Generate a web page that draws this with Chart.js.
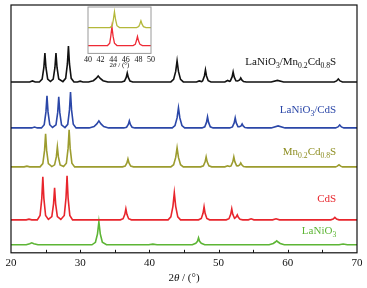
<!DOCTYPE html>
<html>
<head>
<meta charset="utf-8">
<script src="https://cdn.jsdelivr.net/npm/chart.js@4"></script>
<style>
  body { margin: 0; background: #fff; }
  #wrap { position: relative; width: 367px; height: 288px; }
  #main { position: absolute; left: 0; top: 0; }
  #inset { position: absolute; left: 68px; top: 0; }
</style>
</head>
<body>
<div id="wrap">
  <canvas id="main" width="367" height="288"></canvas>
  <canvas id="inset" width="100" height="75"></canvas>
</div>
<script>
// 2theta (deg) vs intensity (a.u.), baseline = 0
var lanio3_mncds = [[20,0],[22.7,0],[23.1,1],[23.5,0],
  [24.1,0],[24.5,2.9],[24.75,14.5],[24.9,29],[25.05,14.5],[25.3,2.9],
  [25.7,0.4],[26.1,2.9],[26.35,14.5],[26.5,29],[26.65,14.5],[26.9,2.9],
  [27.5,0.3],[27.9,3.6],[28.15,18],[28.3,36],[28.45,18],[28.7,3.6],[29.1,0],
  [29.6,0],[30.0,0.8],[30.4,0],
  [31.2,0],[31.9,1.2],[32.3,3.5],[32.6,6],[32.9,3.5],[33.3,1.2],[34,0],
  [36,0],[36.4,0.9],[36.65,4.5],[36.8,9],[36.95,4.5],[37.2,0.9],[37.6,0],
  [43.1,0],[43.5,2.5],[43.8,10.5],[44.0,21],[44.2,10.5],[44.5,2.5],[44.9,0],
  [46.8,0],[47.2,1],[47.55,0.3],[47.7,1.2],[47.95,6],[48.1,12],[48.25,6],[48.5,1.2],[48.9,0],
  [50.9,0],[51.3,1.5],[51.6,0.5],[51.7,1],[51.95,5],[52.1,10],[52.25,5],[52.5,1.2],
  [52.75,1],[53.05,2],[53.2,4],[53.35,2],[53.6,0.4],[54,0],
  [57.6,0],[58.5,1.5],[59.4,0],
  [66.7,0],[67.05,1],[67.3,3],[67.55,1],[67.9,0],[70,0]];

var lanio3_cds = [[20,0],[23.0,0],[23.4,0.8],[23.8,0],
  [24.4,0],[24.8,3.2],[25.05,16],[25.2,32],[25.35,16],[25.6,3.2],
  [26.0,0.4],[26.5,3.1],[26.75,15.5],[26.9,31],[27.05,15.5],[27.3,3.1],
  [27.8,0.3],[28.2,3.6],[28.45,18],[28.6,36],[28.75,18],[29.0,3.6],[29.4,0],
  [31.3,0],[32.0,1.4],[32.4,4],[32.7,7],[33.0,4],[33.4,1.4],[34.1,0],
  [36.3,0],[36.7,0.7],[36.95,3.5],[37.1,7],[37.25,3.5],[37.5,0.7],[37.9,0],
  [43.3,0],[43.7,2.4],[44.0,10],[44.2,20],[44.4,10],[44.7,2.4],[45.1,0],
  [47.6,0],[48.0,1.1],[48.25,5.5],[48.4,11],[48.55,5.5],[48.8,1.1],[49.2,0],
  [51.6,0],[52.0,1],[52.25,5],[52.4,10],[52.55,5],[52.8,1.2],
  [53.0,1.2],[53.25,2],[53.4,4],[53.55,2],[53.8,0.4],[54.2,0],
  [57.6,0],[58.6,2],[59.6,0],
  [66.9,0],[67.25,1],[67.5,3],[67.75,1],[68.1,0],[70,0]];

var mncds = [[20,0],[21.9,0],[22.3,0.7],[22.7,0],
  [24.2,0],[24.6,3.3],[24.85,16.5],[25.0,33],[25.15,16.5],[25.4,3.3],
  [25.9,0.3],[26.3,2],[26.55,10],[26.7,20],[26.85,10],[27.1,2],
  [27.6,0.3],[28.0,3.7],[28.25,18.5],[28.4,37],[28.55,18.5],[28.8,3.7],[29.2,0],
  [36.1,0],[36.5,0.8],[36.75,4],[36.9,8],[37.05,4],[37.3,0.8],[37.7,0],
  [43.1,0],[43.5,2.2],[43.8,9.5],[44.0,19],[44.2,9.5],[44.5,2.2],[44.9,0],
  [47.4,0],[47.8,1],[48.05,5],[48.2,10],[48.35,5],[48.6,1],[49.0,0],
  [50.9,0],[51.3,1],[51.6,0.4],[51.8,1],[52.05,5],[52.2,10],[52.35,5],[52.6,1.2],
  [52.8,1],[53.05,2],[53.2,4],[53.35,2],[53.6,0.4],[54,0],
  [66.9,0],[67.15,0.7],[67.4,2],[67.65,0.7],[67.9,0],[70,0]];

var cds = [[20,0],[22.2,0],[22.6,0.7],[23.0,0],
  [23.8,0],[24.2,4.3],[24.45,21.5],[24.6,43],[24.75,21.5],[25.0,4.3],
  [25.4,0.4],[25.9,3.2],[26.15,16],[26.3,32],[26.45,16],[26.7,3.2],
  [27.2,0.4],[27.7,4.4],[27.95,22],[28.1,44],[28.25,22],[28.5,4.4],[28.9,0],
  [35.8,0],[36.2,1.1],[36.45,5.5],[36.6,11],[36.75,5.5],[37.0,1.1],[37.4,0],
  [42.7,0],[43.1,3],[43.4,13.5],[43.6,27],[43.8,13.5],[44.1,3],[44.5,0],
  [47.1,0],[47.5,1.3],[47.75,6.5],[47.9,13],[48.05,6.5],[48.3,1.3],[48.7,0],
  [51.1,0],[51.5,1.1],[51.75,5.5],[51.9,11],[52.05,5.5],[52.3,1.5],
  [52.4,2],[52.55,3],[52.7,5],[52.85,2.5],[53.1,0.5],[53.5,0],
  [54.3,0],[54.7,1],[55.1,0],
  [57.8,0],[58.3,1],[58.8,0],
  [66.2,0],[66.55,0.8],[66.8,2.5],[67.05,0.8],[67.4,0],[70,0]];

var lanio3 = [[20,0],[22.2,0],[22.7,1],[23.0,2],[23.3,1],[23.9,0],
  [31.7,0],[32.2,2.5],[32.5,11],[32.7,23],[32.9,11],[33.2,2.5],[33.8,0],
  [39.9,0],[40.5,0.7],[41.1,0],
  [46.2,0],[46.7,1.5],[46.95,3.5],[47.1,7],[47.25,3.5],[47.5,1.5],[48.0,0],
  [57.3,0],[57.9,1.3],[58.2,2.8],[58.4,4],[58.6,2.8],[58.9,1.3],[59.5,0],
  [67.4,0],[68.0,0.8],[68.6,0],[70,0]];

// vertical offsets of the stacked patterns
var offsets = [171, 125, 86, 33, 8];
var names = ['LaNiO3/Mn0.2Cd0.8S', 'LaNiO3/CdS', 'Mn0.2Cd0.8S', 'CdS', 'LaNiO3'];
var colors = ['#111111', '#2b47a8', '#9c9c2e', '#e8252c', '#5db535'];
var labelColors = ['#111111', '#2b47a8', '#8e8e22', '#e8252c', '#5db535'];
// label anchor (2theta, intensity) – right aligned
var labelY = [188, 140, 98, 51, 19];
var labelParts = [
  [['LaNiO',0],['3',1],['/Mn',0],['0.2',1],['Cd',0],['0.8',1],['S',0]],
  [['LaNiO',0],['3',1],['/CdS',0]],
  [['Mn',0],['0.2',1],['Cd',0],['0.8',1],['S',0]],
  [['CdS',0]],
  [['LaNiO',0],['3',1]]
];
var patterns = [lanio3_mncds, lanio3_cds, mncds, cds, lanio3];

// inset (40-50 deg)
var inset_mncds = [[40,0],[43.5,0],[43.85,2],[44.02,8],[44.2,16],[44.38,8],[44.6,2],[45.0,0],
  [47.7,0],[48.05,1],[48.22,3.5],[48.4,7],[48.58,3.5],[48.8,1],[49.2,0],[50,0]];
var inset_cds = [[40,0],[43.1,0],[43.45,2.4],[43.62,9.6],[43.8,19.3],[43.98,9.6],[44.2,2.4],[44.6,0],
  [47.15,0],[47.5,1.2],[47.67,4.6],[47.85,9.3],[48.03,4.6],[48.25,1.2],[48.65,0],[50,0]];
var insetOffsets = [26.3, 8];

var serif = '"Liberation Serif", "Times New Roman", serif';

function drawParts(ctx, parts, xr, y, size, color) {
  var sub = size * 0.7;
  var w = 0;
  parts.forEach(function (p) {
    ctx.font = (p[1] ? sub : size) + 'px ' + serif;
    w += ctx.measureText(p[0]).width;
  });
  var x = xr - w;
  ctx.fillStyle = color;
  ctx.textAlign = 'left';
  ctx.textBaseline = 'alphabetic';
  parts.forEach(function (p) {
    ctx.font = (p[1] ? sub : size) + 'px ' + serif;
    ctx.fillText(p[0], x, y + (p[1] ? size * 0.28 : 0));
    x += ctx.measureText(p[0]).width;
  });
}

function drawTitle(ctx, cx, y, size) {
  var parts = [['2', ''], ['\u03b8', 'italic '], [' / (\u00b0)', '']];
  var w = 0;
  parts.forEach(function (p) { ctx.font = p[1] + size + 'px ' + serif; w += ctx.measureText(p[0]).width; });
  var x = cx - w / 2;
  ctx.fillStyle = '#111';
  ctx.textAlign = 'left';
  ctx.textBaseline = 'alphabetic';
  parts.forEach(function (p) {
    ctx.font = p[1] + size + 'px ' + serif;
    ctx.fillText(p[0], x, y);
    x += ctx.measureText(p[0]).width;
  });
}

var mainDeco = {
  id: 'mainDeco',
  afterDraw: function (chart) {
    var ctx = chart.ctx, a = chart.chartArea, xs = chart.scales.x, ys = chart.scales.y;
    ctx.save();
    ctx.strokeStyle = '#111';
    ctx.lineWidth = 1.2;
    ctx.strokeRect(a.left, a.top, a.right - a.left, a.bottom - a.top);
    ctx.lineWidth = 1;
    for (var t = 25; t < 70; t += 5) {
      var px = Math.round(xs.getPixelForValue(t)) + 0.5;
      ctx.beginPath();
      ctx.moveTo(px, a.bottom);
      ctx.lineTo(px, a.bottom - 3);
      ctx.stroke();
    }
    for (var i = 0; i < names.length; i++) {
      drawParts(ctx, labelParts[i], xs.getPixelForValue(67), ys.getPixelForValue(labelY[i]), 11, labelColors[i]);
    }
    drawTitle(ctx, (a.left + a.right) / 2, a.bottom + 28, 11);
    ctx.restore();
  }
};

new Chart(document.getElementById('main'), {
  type: 'line',
  data: {
    datasets: patterns.map(function (pts, i) {
      return {
        label: names[i],
        data: pts.map(function (p) { return { x: p[0], y: p[1] + offsets[i] }; }),
        borderColor: colors[i],
        borderWidth: 1.6,
        pointRadius: 0,
        tension: 0,
        fill: false
      };
    })
  },
  options: {
    responsive: false,
    animation: false,
    layout: { padding: { left: 11, right: 10, top: 5, bottom: 14 } },
    plugins: { legend: { display: false }, tooltip: { enabled: false } },
    scales: {
      x: {
        type: 'linear', min: 20, max: 70,
        grid: { display: false, drawTicks: false, tickLength: 0 },
        border: { display: false },
        ticks: {
          stepSize: 10, autoSkip: false, maxRotation: 0, padding: 4, color: '#111',
          font: { family: serif, size: 11 }
        }
      },
      y: { display: false, min: 0, max: 248 }
    }
  },
  plugins: [mainDeco]
});

var insetDeco = {
  id: 'insetDeco',
  afterDraw: function (chart) {
    var ctx = chart.ctx, a = chart.chartArea;
    ctx.save();
    ctx.strokeStyle = '#9a9a9a';
    ctx.lineWidth = 1;
    ctx.strokeRect(a.left, a.top, a.right - a.left, a.bottom - a.top);
    drawTitle(ctx, (a.left + a.right) / 2, a.bottom + 14, 7);
    ctx.restore();
  }
};

new Chart(document.getElementById('inset'), {
  type: 'line',
  data: {
    datasets: [inset_mncds, inset_cds].map(function (pts, i) {
      return {
        data: pts.map(function (p) { return { x: p[0], y: p[1] + insetOffsets[i] }; }),
        borderColor: i === 0 ? '#b4b83a' : '#ee2a35',
        borderWidth: 1.3,
        pointRadius: 0,
        tension: 0
      };
    })
  },
  options: {
    responsive: false,
    animation: false,
    layout: { padding: { left: 20, right: 17, top: 7, bottom: 8 } },
    plugins: { legend: { display: false }, tooltip: { enabled: false } },
    scales: {
      x: {
        type: 'linear', min: 40, max: 50,
        grid: { display: false, drawTicks: false, tickLength: 0 },
        border: { display: false },
        ticks: {
          stepSize: 2, autoSkip: false, maxRotation: 0, padding: 2, color: '#111',
          font: { family: serif, size: 8 }
        }
      },
      y: { display: false, min: 0, max: 47.3 }
    }
  },
  plugins: [insetDeco]
});
</script>
</body>
</html>
